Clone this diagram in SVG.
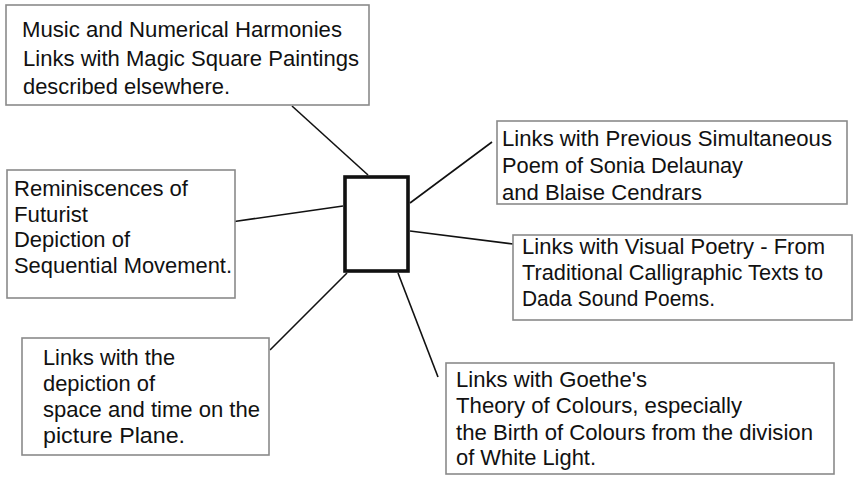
<svg xmlns="http://www.w3.org/2000/svg" width="859" height="478" viewBox="0 0 859 478">
<style>
.box{fill:#fff;stroke:#8a8a8a;stroke-width:1.6}
.t{font-family:"Liberation Sans",Arial,Helvetica,sans-serif;font-size:21.5px;fill:#111}
.c{stroke:#111;stroke-width:1.6;fill:none}
</style>
<rect width="859" height="478" fill="#fff"/>
<g id="connectors">
<line class="c" x1="292" y1="106" x2="368" y2="175"/>
<line class="c" x1="231" y1="222" x2="343" y2="206"/>
<line class="c" x1="410" y1="203" x2="492" y2="142"/>
<line class="c" x1="410" y1="231" x2="513" y2="244"/>
<line class="c" x1="347" y1="273" x2="270" y2="350"/>
<line class="c" x1="398" y1="273" x2="438" y2="377"/>
</g>
<g id="center">
<rect x="345" y="177" width="63" height="94" fill="#fff" stroke="#111" stroke-width="3.6"/>
</g>
<g id="music">
<rect class="box" x="6" y="5" width="363" height="100"/>
<text class="t" x="22" y="37" textLength="320" lengthAdjust="spacingAndGlyphs">Music and Numerical Harmonies</text>
<text class="t" x="23" y="66" textLength="336" lengthAdjust="spacingAndGlyphs">Links with Magic Square Paintings</text>
<text class="t" x="23" y="94" textLength="207" lengthAdjust="spacingAndGlyphs">described elsewhere.</text>
</g>
<g id="futurist">
<rect class="box" x="7" y="170" width="228" height="128"/>
<text class="t" x="14" y="196" textLength="174" lengthAdjust="spacingAndGlyphs">Reminiscences of</text>
<text class="t" x="14" y="222" textLength="74" lengthAdjust="spacingAndGlyphs">Futurist</text>
<text class="t" x="14" y="247" textLength="116" lengthAdjust="spacingAndGlyphs">Depiction of</text>
<text class="t" x="14" y="273" textLength="218" lengthAdjust="spacingAndGlyphs">Sequential Movement.</text>
</g>
<g id="simultaneous">
<rect class="box" x="497" y="121" width="350" height="83"/>
<text class="t" x="502" y="146" textLength="330" lengthAdjust="spacingAndGlyphs">Links with Previous Simultaneous</text>
<text class="t" x="502" y="173" textLength="241" lengthAdjust="spacingAndGlyphs">Poem of Sonia Delaunay</text>
<text class="t" x="502" y="200" textLength="200" lengthAdjust="spacingAndGlyphs">and Blaise Cendrars</text>
</g>
<g id="visual-poetry">
<rect class="box" x="513" y="235" width="339" height="85"/>
<text class="t" x="522" y="254" textLength="303" lengthAdjust="spacingAndGlyphs">Links with Visual Poetry - From</text>
<text class="t" x="522" y="280" textLength="301" lengthAdjust="spacingAndGlyphs">Traditional Calligraphic Texts to</text>
<text class="t" x="522" y="306" textLength="193" lengthAdjust="spacingAndGlyphs">Dada Sound Poems.</text>
</g>
<g id="space-time">
<rect class="box" x="22" y="338" width="247" height="117"/>
<text class="t" x="43" y="365" textLength="132" lengthAdjust="spacingAndGlyphs">Links with the</text>
<text class="t" x="43" y="391" textLength="112" lengthAdjust="spacingAndGlyphs">depiction of</text>
<text class="t" x="43" y="417" textLength="217" lengthAdjust="spacingAndGlyphs">space and time on the</text>
<text class="t" x="43" y="443" textLength="142" lengthAdjust="spacingAndGlyphs">picture Plane.</text>
</g>
<g id="goethe">
<rect class="box" x="446" y="363" width="388" height="111"/>
<text class="t" x="456" y="387" textLength="191" lengthAdjust="spacingAndGlyphs">Links with Goethe's</text>
<text class="t" x="456" y="413" textLength="286" lengthAdjust="spacingAndGlyphs">Theory of Colours, especially</text>
<text class="t" x="456" y="440" textLength="357" lengthAdjust="spacingAndGlyphs">the Birth of Colours from the division</text>
<text class="t" x="456" y="465" textLength="140" lengthAdjust="spacingAndGlyphs">of White Light.</text>
</g>
</svg>
